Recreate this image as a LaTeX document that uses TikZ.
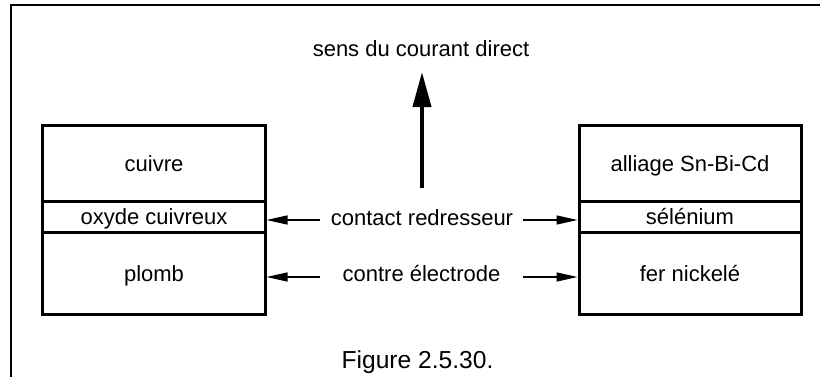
\documentclass[tikz,border=0pt]{standalone}
\usepackage{fontspec}
\setmainfont{Liberation Sans}
\usetikzlibrary{arrows.meta}
\tikzset{
  layer/.style={draw, line width=3bp, minimum width=222bp, inner sep=0pt,
    text height=18bp, text depth=2bp, font=\fontsize{22bp}{26bp}\selectfont},
  lbl/.style={anchor=base, inner sep=0pt, font=\fontsize{22bp}{26bp}\selectfont},
  thinarrow/.style={line width=1.3bp, -{Triangle[length=21bp,width=9bp]}},
  bigarrow/.style={line width=4bp, -{Triangle[length=35bp,width=18bp]}},
  frame/.style={line width=2bp}
}
\begin{document}
\begin{tikzpicture}[x=1bp,y=-1bp]
\useasboundingbox (0,0) rectangle (820,376);
\clip (0,0) rectangle (820,376);
\draw[frame] (11,5) rectangle (840,400);
% left stack
\node[layer, minimum height=76bp] (cuivre) at (154,163) {cuivre};
\node[layer, minimum height=31bp] (oxyde) at (154,216.5) {oxyde cuivreux};
\node[layer, minimum height=82bp] (plomb) at (154,273) {plomb};
% right stack
\node[layer, minimum height=76bp] (alliage) at (690,163) {alliage Sn-Bi-Cd};
\node[layer, minimum height=31bp] (selenium) at (690,216.5) {sélénium};
\node[layer, minimum height=82bp] (fer) at (690,273) {fer nickelé};
% center labels
\node[lbl] (contact) at (422,225) {contact redresseur};
\node[lbl] (contre) at (421.5,281) {contre électrode};
\node[lbl] (sens) at (421,56.5) {sens du courant direct};
\node[lbl, font=\fontsize{24.6bp}{28bp}\selectfont] (fig) at (417.5,368) {Figure 2.5.30.};
% arrow tails
\coordinate (cl) at (320,220);
\coordinate (cr) at (523,220);
\coordinate (el) at (320,277);
\coordinate (er) at (523,277);
\draw[thinarrow] (cl) -- (oxyde.east |- cl);
\draw[thinarrow] (cr) -- (selenium.west |- cr);
\draw[thinarrow] (el) -- (plomb.east |- el);
\draw[thinarrow] (er) -- (fer.west |- er);
% current direction
\coordinate (shaftbot) at (422,188);
\coordinate (shafttop) at (422,72);
\draw[bigarrow] (shaftbot) -- (shafttop);
\end{tikzpicture}
\end{document}
